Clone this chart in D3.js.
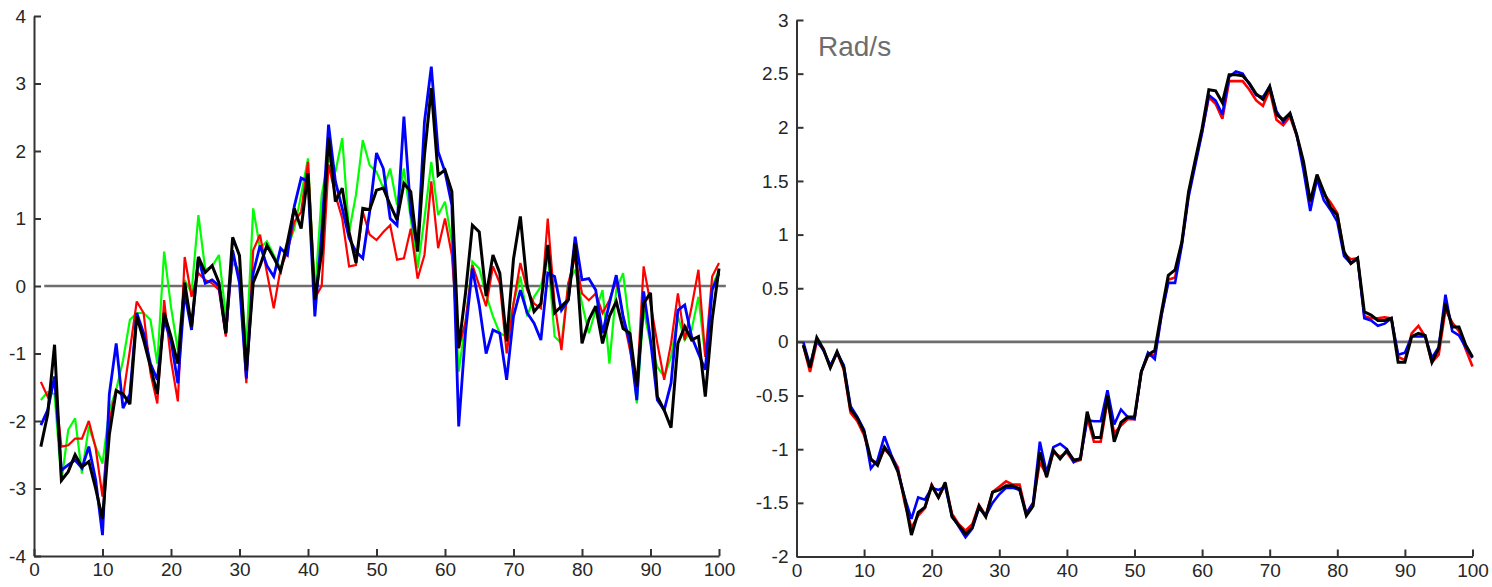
<!DOCTYPE html>
<html>
<head>
<meta charset="utf-8">
<script src="https://cdn.jsdelivr.net/npm/d3@7"></script>
<style>
  html, body { margin: 0; padding: 0; background: #fff; }
  svg { display: block; }
  .tick text { font-family: "Liberation Sans", Arial, sans-serif; font-size: 19px; fill: #262626; }
</style>
</head>
<body>
<svg id="chart" width="1492" height="587"></svg>
<script>
// Sample index 1..100 shared by every trace
const samples = d3.range(1, 101);

// Left panel: four traces
const leftRed = [
  -1.42, -1.64, -1.44, -2.38, -2.36, -2.26, -2.26, -2.0, -2.4, -3.12,
  -2.0, -1.54, -1.64, -0.95, -0.23, -0.4, -1.29, -1.74, -0.21, -1.1,
  -1.71, 0.43, -0.16, 0.19, 0.09, 0.04, -0.06, -0.75, 0.46, 0.14,
  -1.44, 0.53, 0.76, 0.2, -0.33, 0.26, 0.51, 0.95, 1.1, 1.84,
  -0.18, 0.0, 1.8, 1.35, 1.0, 0.29, 0.31, 1.1, 0.76, 0.68,
  0.8, 0.9, 0.39, 0.41, 0.85, 0.11, 0.46, 1.55, 0.56, 1.0,
  0.46, -0.92, -0.53, 0.31, 0.01, -0.3, 0.29, 0.04, -1.0, -0.26,
  0.34, -0.06, -0.26, -0.33, 1.0, -0.26, -0.95, 0.04, 0.43, -0.11,
  -0.21, -0.11, -0.4, -0.21, 0.09, -0.45, -0.95, -1.49, 0.29, -0.26,
  -0.85, -1.39, -0.85, -0.11, -0.8, -0.31, 0.24, -1.05, 0.14, 0.34
];
const leftGreen = [
  -1.69, -1.57, -1.6, -2.9, -2.13, -1.96, -2.78, -2.08, -2.38, -2.63,
  -1.84, -1.54, -1.1, -0.5, -0.4, -0.4, -0.5, -1.15, 0.51, -0.31,
  -0.95, 0.09, -0.1, 1.05, 0.24, 0.29, 0.46, -0.45, 0.34, 0.24,
  -0.9, 1.15, 0.56, 0.66, 0.46, 0.26, 0.56, 0.85, 1.35, 1.89,
  -0.13, 1.35, 1.89, 1.69, 2.19, 0.8, 1.35, 2.16, 1.79, 1.69,
  1.45, 1.74, 1.2, 1.74, 1.0, 0.26, 1.0, 1.84, 1.05, 1.25,
  0.66, -1.27, -0.53, 0.36, 0.26, -0.13, -0.45, -0.7, -0.75, -0.26,
  0.14, -0.45, -0.16, -0.01, 0.48, -0.75, -0.85, 0.04, 0.24, -0.26,
  -0.7, -0.36, -0.06, -1.15, -0.06, 0.19, -0.65, -1.74, -0.36, -0.85,
  -1.2, -1.34, -1.05, -0.45, -0.8, -0.65, -0.16, -1.05, -0.01, 0.24
];
const leftBlue = [
  -2.06, -1.84, -1.34, -2.73, -2.65, -2.58, -2.7, -2.38, -2.87, -3.69,
  -1.6, -0.85, -1.81, -1.6, -0.4, -0.7, -1.15, -1.39, -0.5, -0.8,
  -1.44, -0.1, -0.65, 0.41, 0.04, 0.09, 0.0, -0.7, 0.53, 0.04,
  -1.37, 0.19, 0.6, 0.3, 0.14, 0.56, 0.46, 1.18, 1.6, 1.55,
  -0.45, 0.8, 2.39, 1.55, 1.15, 0.71, 0.51, 0.41, 1.1, 1.97,
  1.74, 1.0, 0.9, 2.51, 1.1, 0.56, 2.43, 3.25, 1.99, 1.69,
  1.2, -2.08, -0.68, 0.26, -0.28, -1.0, -0.65, -0.7, -1.39, -0.45,
  -0.06, -0.4, -0.55, -0.8, 0.19, 0.14, -0.36, -0.21, 0.73, 0.09,
  0.11, -0.06, -0.7, -0.26, 0.16, -0.45, -0.85, -1.69, -0.08, -0.8,
  -1.69, -1.84, -1.44, -0.36, -0.28, -0.75, -1.0, -1.24, -0.06, 0.19
];
const leftBlack = [
  -2.38, -1.9, -0.87, -2.88, -2.75, -2.5, -2.68, -2.6, -3.0, -3.45,
  -2.2, -1.55, -1.6, -1.75, -0.45, -0.8, -1.2, -1.6, -0.4, -0.75,
  -1.15, 0.05, -0.6, 0.43, 0.2, 0.3, 0.05, -0.7, 0.72, 0.45,
  -1.25, 0.05, 0.3, 0.6, 0.42, 0.22, 0.65, 1.15, 0.85, 1.67,
  -0.2, 0.5, 2.2, 1.25, 1.45, 0.8, 0.34, 1.15, 1.13, 1.42,
  1.45, 1.2, 0.98, 1.52, 1.4, 0.51, 1.94, 2.93, 1.64, 1.72,
  1.4, -0.92, -0.1, 0.9, 0.8, -0.15, 0.46, 0.19, -0.82, 0.4,
  1.03, 0.0, -0.38, -0.26, 0.61, -0.4, -0.3, -0.2, 0.63, -0.85,
  -0.5, -0.3, -0.85, -0.45, -0.23, -0.63, -0.7, -1.49, -0.26, -0.1,
  -1.64, -1.84, -2.1, -0.85, -0.6, -0.8, -0.75, -1.64, -0.5, 0.26
];

// Right panel: three traces (Rad/s)
const rightRed = [
  -0.03, -0.28, 0.0, -0.07, -0.24, -0.1, -0.26, -0.66, -0.74, -0.87,
  -1.1, -1.14, -1.0, -1.06, -1.17, -1.5, -1.73, -1.62, -1.55, -1.33,
  -1.45, -1.33, -1.6, -1.7, -1.76, -1.7, -1.52, -1.62, -1.4, -1.35,
  -1.3, -1.33, -1.33, -1.6, -1.5, -1.12, -1.24, -1.03, -1.07, -1.03,
  -1.12, -1.1, -0.7, -0.93, -0.93, -0.55, -0.85, -0.78, -0.72, -0.72,
  -0.28, -0.13, -0.12, 0.25, 0.58, 0.6, 0.92, 1.38, 1.68, 1.96,
  2.28, 2.22, 2.08, 2.43, 2.43, 2.43, 2.35, 2.25, 2.2, 2.35,
  2.07, 2.02, 2.1, 1.92, 1.66, 1.3, 1.52, 1.38, 1.3, 1.2,
  0.82, 0.77, 0.78, 0.24, 0.22, 0.22, 0.23, 0.22, -0.14, -0.17,
  0.08, 0.15, 0.05, -0.19, -0.12, 0.3, 0.18, 0.1, -0.07, -0.23
];
const rightBlue = [
  0.0, -0.22, 0.02, -0.08, -0.22, -0.1, -0.22, -0.6, -0.7, -0.82,
  -1.18, -1.1, -0.88, -1.05, -1.2, -1.45, -1.65, -1.45, -1.47, -1.36,
  -1.38, -1.35, -1.62, -1.72, -1.82, -1.74, -1.55, -1.62, -1.5, -1.42,
  -1.36, -1.36, -1.38, -1.6, -1.5, -0.93, -1.22, -0.98, -0.95, -1.0,
  -1.12, -1.08, -0.73, -0.74, -0.74, -0.45, -0.77, -0.63, -0.7, -0.72,
  -0.28, -0.1, -0.16, 0.25, 0.55, 0.55, 0.9, 1.35, 1.65, 1.95,
  2.3, 2.25, 2.12, 2.47, 2.52, 2.5, 2.4, 2.3, 2.28, 2.38,
  2.15, 2.05, 2.13, 1.93, 1.6, 1.22, 1.52, 1.32, 1.23, 1.12,
  0.8, 0.73, 0.78, 0.22, 0.2, 0.15, 0.17, 0.22, -0.12, -0.1,
  0.05, 0.05, 0.05, -0.15, -0.05, 0.44, 0.1, 0.06, -0.05, -0.15
];
const rightBlack = [
  -0.03, -0.24, 0.04, -0.07, -0.24, -0.09, -0.24, -0.63, -0.71, -0.84,
  -1.09, -1.15, -0.98, -1.07, -1.21, -1.46, -1.8, -1.59, -1.54, -1.34,
  -1.45, -1.31, -1.63, -1.71, -1.79, -1.73, -1.53, -1.63, -1.4, -1.38,
  -1.34, -1.34, -1.37, -1.62, -1.53, -1.03, -1.26, -1.01, -1.09, -1.01,
  -1.1, -1.09, -0.65, -0.89, -0.89, -0.5, -0.93, -0.75, -0.7, -0.7,
  -0.28, -0.12, -0.08, 0.28, 0.62, 0.67, 0.93, 1.4, 1.7, 1.99,
  2.35, 2.34, 2.23, 2.49, 2.49, 2.48, 2.41, 2.31, 2.26, 2.38,
  2.12, 2.07, 2.13, 1.93, 1.68, 1.31, 1.56, 1.4, 1.25, 1.18,
  0.84, 0.73, 0.78, 0.28, 0.25, 0.2, 0.2, 0.22, -0.19, -0.19,
  0.05, 0.08, 0.06, -0.19, -0.06, 0.36, 0.14, 0.14, -0.03, -0.14
];

// Axis ticks and the extent of each zero reference line (in x units)
const xTicks = [0, 10, 20, 30, 40, 50, 60, 70, 80, 90, 100];
const leftYTicks = [-4, -3, -2, -1, 0, 1, 2, 3, 4];
const rightYTicks = [-2, -1.5, -1, -0.5, 0, 0.5, 1, 1.5, 2, 2.5, 3];
const leftZeroSpan = [1.5, 101];
const rightZeroSpan = [0, 96.7];
const rightUnit = "Rad/s";

const svg = d3.select("#chart");

function drawPanel(cfg) {
  const x = d3.scaleLinear().domain([0, 100]).range([cfg.left, cfg.right]);
  const y = d3.scaleLinear().domain(cfg.yDomain).range([cfg.bottom, cfg.top]);
  const g = svg.append("g");

  // zero reference line
  g.append("line")
    .attr("x1", x(cfg.zeroSpan[0])).attr("x2", x(cfg.zeroSpan[1]))
    .attr("y1", y(0)).attr("y2", y(0))
    .attr("stroke", "#6e6e6e").attr("stroke-width", 2.6);

  const line = d3.line()
    .x((d, i) => x(samples[i]))
    .y(d => y(d));

  cfg.series.forEach(s => {
    g.append("path")
      .datum(s.values)
      .attr("fill", "none")
      .attr("stroke", s.color)
      .attr("stroke-width", s.width)
      .attr("stroke-linejoin", "miter")
      .attr("stroke-miterlimit", 3)
      .attr("d", line);
  });

  const axisX = d3.axisBottom(x).tickValues(xTicks).tickFormat(d => String(d))
    .tickSizeInner(-7).tickSizeOuter(0).tickPadding(7);
  const axisY = d3.axisLeft(y).tickValues(cfg.yTicks).tickFormat(d => String(d))
    .tickSizeInner(-7).tickSizeOuter(0).tickPadding(8);

  const gx = g.append("g").attr("transform", `translate(0,${cfg.bottom})`).call(axisX);
  const gy = g.append("g").attr("transform", `translate(${cfg.left},0)`).call(axisY);
  [gx, gy].forEach(a => {
    a.select(".domain").attr("stroke", "#333").attr("stroke-width", 2);
    a.selectAll(".tick line").attr("stroke", "#333").attr("stroke-width", 2);
  });
  return { x, y, g };
}

drawPanel({
  left: 34, right: 719, top: 16, bottom: 556,
  yDomain: [-4, 4], yTicks: leftYTicks, zeroSpan: leftZeroSpan,
  series: [
    { values: leftGreen, color: "#00ff00", width: 2.2 },
    { values: leftRed, color: "#ff0000", width: 2.2 },
    { values: leftBlue, color: "#0000ff", width: 2.8 },
    { values: leftBlack, color: "#000000", width: 3 }
  ]
});

const right = drawPanel({
  left: 796.5, right: 1472.5, top: 20, bottom: 556.5,
  yDomain: [-2, 3], yTicks: rightYTicks, zeroSpan: rightZeroSpan,
  series: [
    { values: rightRed, color: "#ff0000", width: 2.6 },
    { values: rightBlue, color: "#0000ff", width: 2.6 },
    { values: rightBlack, color: "#000000", width: 3 }
  ]
});

// unit label inside the right panel
right.g.append("text")
  .attr("x", 818).attr("y", 56)
  .attr("font-family", "'Liberation Sans', Arial, sans-serif")
  .attr("font-size", 28)
  .attr("fill", "#6e6e6e")
  .text(rightUnit);
</script>
</body>
</html>
